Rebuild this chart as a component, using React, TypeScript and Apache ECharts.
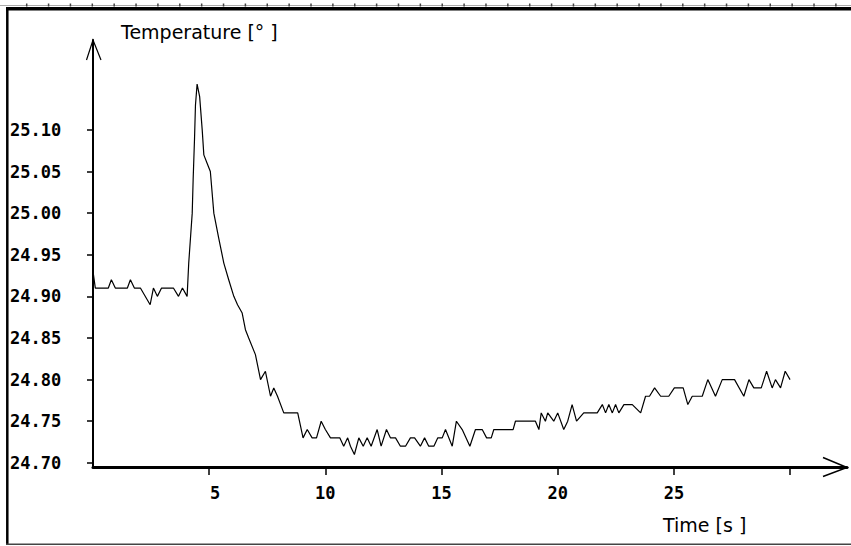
import React, { useEffect, useRef } from "react";
import * as echarts from "echarts";

// Time [s] and temperature readings (vertices)
const times: number[] = [
  0, 0.1, 0.66, 0.79, 0.96, 1.48, 1.61, 1.78, 2.04, 2.46, 2.6, 2.77, 2.95, 3.46, 3.68, 3.85,
  4.05, 4.12, 4.27, 4.31, 4.37, 4.41, 4.48, 4.59, 4.7, 4.77, 4.91, 5.05, 5.2, 5.41, 5.63, 5.84,
  6.06, 6.22, 6.42, 6.56, 6.7, 6.99, 7.21, 7.42, 7.64, 7.78, 7.94, 8.21, 8.81, 9.04, 9.22, 9.43,
  9.62, 9.82, 10.0, 10.22, 10.62, 10.79, 10.96, 11.08, 11.25, 11.44, 11.63, 11.8, 11.97, 12.23,
  12.4, 12.63, 12.8, 13.02, 13.23, 13.45, 13.66, 13.84, 14.09, 14.27, 14.45, 14.67, 14.84, 15.03,
  15.17, 15.46, 15.64, 15.89, 16.22, 16.46, 16.75, 16.94, 17.14, 17.25, 18.08, 18.18, 19.04, 19.19,
  19.29, 19.47, 19.57, 19.83, 20.0, 20.26, 20.43, 20.62, 20.81, 21.12, 21.7, 21.92, 22.06, 22.2,
  22.35, 22.49, 22.63, 22.85, 23.21, 23.57, 23.78, 23.95, 24.17, 24.43, 24.78, 25.02, 25.4, 25.6,
  25.79, 26.22, 26.46, 26.79, 27.08, 27.61, 28.01, 28.23, 28.44, 28.76, 28.99, 29.23, 29.37, 29.59,
  29.79, 30.0,
];
const temps: number[] = [
  24.93, 24.91, 24.91, 24.92, 24.91, 24.91, 24.92, 24.91, 24.91, 24.89, 24.91, 24.9, 24.91, 24.91, 24.9, 24.91,
  24.9, 24.94, 25.0, 25.04, 25.09, 25.13, 25.155, 25.14, 25.1, 25.07, 25.06, 25.05, 25.0, 24.97, 24.94, 24.92,
  24.9, 24.89, 24.88, 24.86, 24.85, 24.83, 24.8, 24.81, 24.78, 24.79, 24.78, 24.76, 24.76, 24.73, 24.74, 24.73,
  24.73, 24.75, 24.74, 24.73, 24.73, 24.72, 24.73, 24.72, 24.71, 24.73, 24.72, 24.73, 24.72, 24.74,
  24.72, 24.74, 24.73, 24.73, 24.72, 24.72, 24.73, 24.73, 24.72, 24.73, 24.72, 24.72, 24.73, 24.73,
  24.74, 24.72, 24.75, 24.74, 24.72, 24.74, 24.74, 24.73, 24.73, 24.74, 24.74, 24.75, 24.75, 24.74,
  24.76, 24.75, 24.76, 24.75, 24.76, 24.74, 24.75, 24.77, 24.75, 24.76, 24.76, 24.77, 24.76, 24.77,
  24.76, 24.77, 24.76, 24.77, 24.77, 24.76, 24.78, 24.78, 24.79, 24.78, 24.78, 24.79, 24.79, 24.77,
  24.78, 24.78, 24.8, 24.78, 24.8, 24.8, 24.78, 24.8, 24.79, 24.79, 24.81, 24.79, 24.8, 24.79,
  24.81, 24.8,
];

const xTickValues: number[] = [5, 10, 15, 20, 25, 30];
const xLabelValues: number[] = [5, 10, 15, 20, 25];
const yTickValues: number[] = [24.7, 24.75, 24.8, 24.85, 24.9, 24.95, 25.0, 25.05, 25.1];

const W = 851;
const H = 546;
const GRID_LEFT = 93;
const GRID_RIGHT = 4;
const GRID_TOP = 40;
const GRID_BOTTOM = 79;

const MONO = "'DejaVu Sans Mono', 'Liberation Mono', monospace";
const SANS = "'DejaVu Sans', 'Liberation Sans', sans-serif";

export default function App() {
  const ref = useRef<HTMLDivElement>(null);
  useEffect(() => {
    if (!ref.current) return;
    const chart = echarts.init(ref.current, undefined, { renderer: "svg" });
    const axisX = GRID_LEFT;
    const axisY = H - GRID_BOTTOM;
    const tipX = W - GRID_RIGHT;

    const rulerTicks: any[] = [];
    for (let x = 26.7; x < W; x += 21.87) {
      rulerTicks.push({
        type: "rect",
        shape: { x: x - 0.75, y: 3.5, width: 1.5, height: 3 },
        style: { fill: "#444" },
        silent: true,
      });
    }

    chart.setOption({
      animation: false,
      backgroundColor: "#ffffff",
      title: [
        {
          text: "Temperature [° ]",
          left: 121,
          top: 22,
          padding: 0,
          textStyle: { fontFamily: SANS, fontSize: 19, fontWeight: "normal", color: "#000" },
        },
        {
          text: "Time [s ]",
          left: 663,
          top: 515,
          padding: 0,
          textStyle: { fontFamily: SANS, fontSize: 19, fontWeight: "normal", color: "#000" },
        },
      ],
      grid: { left: GRID_LEFT, right: GRID_RIGHT, top: GRID_TOP, bottom: GRID_BOTTOM, containLabel: false },
      xAxis: {
        type: "value",
        min: 0,
        max: 32.45,
        splitLine: { show: false },
        axisLine: { show: true, onZero: false, lineStyle: { color: "#000", width: 3 } },
        axisTick: { show: true, customValues: xTickValues, length: 8, lineStyle: { color: "#000", width: 1.5 } },
        axisLabel: {
          customValues: xLabelValues,
          margin: 17,
          fontFamily: MONO,
          fontSize: 17,
          fontWeight: "bold",
          color: "#000",
          formatter: (v: number) => (v < 10 ? "{p|" + v + "}" : String(v)),
          rich: {
            p: { fontFamily: MONO, fontSize: 17, fontWeight: "bold", color: "#000", padding: [0, 0, 0, 12] },
          },
        },
      },
      yAxis: {
        type: "value",
        min: 24.695,
        max: 25.208,
        splitLine: { show: false },
        axisLine: { show: true, onZero: false, lineStyle: { color: "#000", width: 2 } },
        axisTick: { show: true, customValues: yTickValues, length: 6, lineStyle: { color: "#000", width: 1.5 } },
        axisLabel: {
          customValues: yTickValues,
          align: "left",
          margin: 83,
          fontFamily: MONO,
          fontSize: 17,
          fontWeight: "bold",
          color: "#000",
          formatter: (v: number) => v.toFixed(2),
        },
      },
      series: [
        {
          type: "line",
          data: times.map((t, i) => [t, temps[i]]),
          showSymbol: false,
          symbol: "none",
          lineStyle: { color: "#000", width: 1.2 },
          silent: true,
        },
      ],
      graphic: [
        // frame
        { type: "line", shape: { x1: 0, y1: 5.5, x2: W, y2: 5.5 }, style: { stroke: "#aaa", lineWidth: 1 }, silent: true },
        ...rulerTicks,
        { type: "line", shape: { x1: 6, y1: 8.7, x2: W, y2: 8.7 }, style: { stroke: "#000", lineWidth: 3.5 }, silent: true },
        { type: "line", shape: { x1: 7.3, y1: 7, x2: 7.3, y2: 545 }, style: { stroke: "#000", lineWidth: 2.5 }, silent: true },
        { type: "line", shape: { x1: 6, y1: 544.2, x2: W, y2: 544.2 }, style: { stroke: "#444", lineWidth: 1.5 }, silent: true },
        // y axis arrowhead
        {
          type: "polyline",
          shape: { points: [[axisX - 6.5, GRID_TOP + 20], [axisX, GRID_TOP], [axisX + 8, GRID_TOP + 20]] },
          style: { stroke: "#000", lineWidth: 1.2, fill: "none" },
          silent: true,
        },
        // x axis arrowhead
        {
          type: "polyline",
          shape: { points: [[tipX - 24, axisY - 9.5], [tipX, axisY + 0.5], [tipX - 24, axisY + 9.5]] },
          style: { stroke: "#000", lineWidth: 1.5, fill: "none" },
          silent: true,
        },
      ],
    });
    return () => chart.dispose();
  }, []);
  return <div ref={ref} style={{ position: "fixed", left: 0, top: 0, width: W, height: H }} />;
}
